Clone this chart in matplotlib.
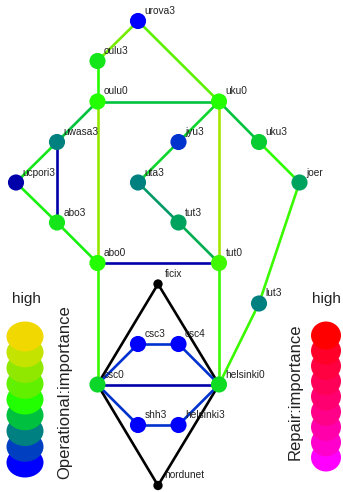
import matplotlib
matplotlib.use("Agg")
import matplotlib.pyplot as plt
import matplotlib.patches as mpatches
from matplotlib.colors import LinearSegmentedColormap

plt.rcParams["font.family"] = ["Liberation Sans", "DejaVu Sans"]

# node layout (pixel grid of the original drawing) and operational importance
NODES = ["urova3", "oulu3", "oulu0", "uku0", "uwasa3", "jyu3", "uku3",
         "ucpori3", "uta3", "joer", "abo3", "tut3", "abo0", "tut0", "ficix",
         "lut3", "csc3", "csc4", "csc0", "helsinki0", "shh3", "helsinki3",
         "nordunet"]
NODE_X = [138, 97.5, 97.5, 219, 57, 178.5, 259,
          16, 138, 299.5, 57, 178.5, 97.5, 219, 158,
          259, 138, 178.5, 97.5, 219, 138, 178.5,
          158]
NODE_Y = [21, 61, 101.5, 101.5, 142, 142, 142,
          182.5, 182.5, 182.5, 222.5, 222.5, 263, 263, 284,
          303.5, 344, 344, 384.5, 384.5, 425, 425,
          485.5]
# None = external (black) node, -1 = below scale (dark blue)
NODE_IMP = [0.0, 0.45, 0.5, 0.5, 0.25, 0.1, 0.4,
            -1, 0.25, 0.32, 0.45, 0.32, 0.5, 0.56, None,
            0.25, 0.0, 0.0, 0.42, 0.43, 0.0, 0.0,
            None]

EDGES = [
    ("urova3", "oulu3", 0.68), ("urova3", "uku0", 0.62),
    ("oulu3", "oulu0", 0.5), ("oulu0", "uku0", 0.38),
    ("oulu0", "uwasa3", 0.38), ("oulu0", "abo0", 0.76),
    ("uku0", "jyu3", 0.42), ("uku0", "tut0", 0.8),
    ("uku0", "uku3", 0.38), ("uku3", "joer", 0.52),
    ("uwasa3", "ucpori3", 0.45), ("uwasa3", "abo3", -1),
    ("ucpori3", "abo3", 0.47), ("jyu3", "uta3", 0.42),
    ("uta3", "tut3", 0.3), ("tut3", "tut0", 0.34),
    ("abo3", "abo0", 0.47), ("abo0", "tut0", -1),
    ("abo0", "csc0", 0.55), ("tut0", "helsinki0", 0.55),
    ("joer", "lut3", 0.55), ("lut3", "helsinki0", 0.55),
    ("ficix", "csc0", None), ("ficix", "helsinki0", None),
    ("nordunet", "csc0", None), ("nordunet", "helsinki0", None),
    ("csc0", "helsinki0", -1),
    ("csc0", "csc3", 0.1), ("csc3", "csc4", 0.1), ("csc4", "helsinki0", 0.1),
    ("csc0", "shh3", 0.1), ("shh3", "helsinki3", 0.1),
    ("helsinki3", "helsinki0", 0.1),
]

# legend scales, low -> high
OPER_COLORS = ["#0000ff", "#0040c0", "#008080", "#00c040", "#22ff00",
               "#60f000", "#90e800", "#c4e400", "#f0d800"]
REPAIR_COLORS = ["#ff00ff", "#ff00cc", "#ff00aa", "#ff0088", "#ff0070",
                 "#ff0058", "#ff0040", "#ff0028", "#ff0000"]

cmap = LinearSegmentedColormap.from_list("oper", OPER_COLORS)
cmap.set_under("#0000aa")


def imp_color(v):
    if v is None:
        return "black"
    if v < 0:
        return "#0000aa"
    return cmap(v)


fig = plt.figure(figsize=(3.43, 4.92), dpi=100)
ax = fig.add_axes([0, 0, 1, 1])
ax.set_xlim(0, 343)
ax.set_ylim(492, 0)
ax.axis("off")

pos = {n: (x, y) for n, x, y in zip(NODES, NODE_X, NODE_Y)}

for a, b, v in EDGES:
    (x1, y1), (x2, y2) = pos[a], pos[b]
    ax.plot([x1, x2], [y1, y2], color=imp_color(v), lw=1.9,
            solid_capstyle="butt", zorder=1)

for n, x, y, v in zip(NODES, NODE_X, NODE_Y, NODE_IMP):
    size = 45 if v is None else 135
    ax.scatter([x], [y], s=size, color=imp_color(v), edgecolors="none",
               zorder=2)
    ax.text(x + 6.5, y - 10, n, fontsize=7.3, color="#222222",
            ha="left", va="center", zorder=3)

# legends: stacked ellipses, top one drawn last
n_left = len(OPER_COLORS)
for i, c in enumerate(OPER_COLORS):
    cy = 462.5 - i * (462.5 - 336.5) / (n_left - 1)
    ax.add_patch(mpatches.Ellipse((25, cy), 37, 30, color=c, lw=0, zorder=2))
n_right = len(REPAIR_COLORS)
for i, c in enumerate(REPAIR_COLORS):
    cy = 457.5 - i * (457.5 - 335.5) / (n_right - 1)
    ax.add_patch(mpatches.Ellipse((326, cy), 30, 28, color=c, lw=0, zorder=2))

ax.text(26, 299, "high", fontsize=11, ha="center", va="center", color="#222222")
ax.text(326, 299, "high", fontsize=11, ha="center", va="center", color="#222222")
ax.text(65, 392, "Operational:importance", fontsize=12, rotation=90,
        ha="center", va="center", color="#222222")
ax.text(295, 392, "Repair:importance", fontsize=12, rotation=90,
        ha="center", va="center", color="#222222")

fig.savefig("out.png", dpi=100)
